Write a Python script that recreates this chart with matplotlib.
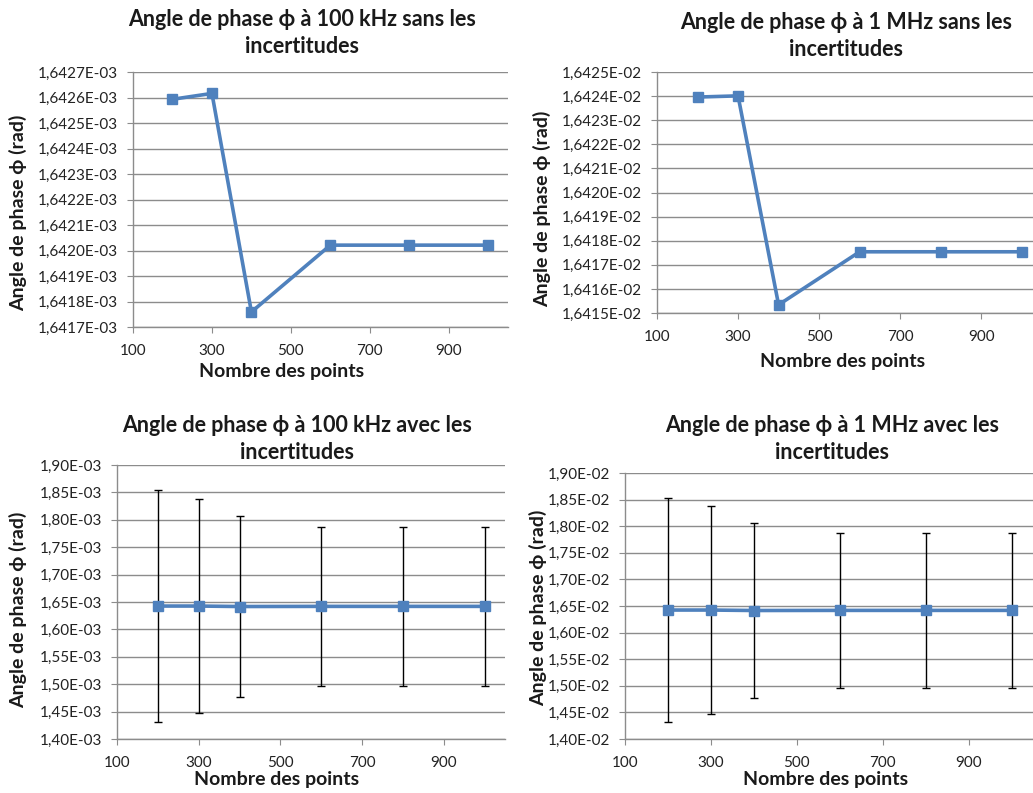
import numpy as np
import matplotlib
matplotlib.use("Agg")
import matplotlib.pyplot as plt
from matplotlib.ticker import FuncFormatter, FixedLocator

plt.rcParams['font.family'] = ['Lato', 'DejaVu Sans']

# Number of points used in the computation
points = [200, 300, 400, 600, 800, 1000]

# Phase angle at 100 kHz (rad)
phase_100k = [1.642593e-3, 1.642616e-3, 1.641759e-3, 1.642021e-3, 1.642021e-3, 1.642021e-3]
# Phase angle at 1 MHz (rad)
phase_1M = [1.642396e-2, 1.642401e-2, 1.641534e-2, 1.641754e-2, 1.641754e-2, 1.641754e-2]
# Uncertainties (rad)
err_100k = [0.212e-3, 0.195e-3, 0.166e-3, 0.145e-3, 0.145e-3, 0.145e-3]
err_1M = [0.211e-2, 0.195e-2, 0.165e-2, 0.145e-2, 0.145e-2, 0.145e-2]

xticks = [100, 300, 500, 700, 900]

titles = [
    "Angle de phase \u03d5 à 100 kHz sans les\nincertitudes",
    "Angle de phase \u03d5 à 1 MHz sans les\nincertitudes",
    "Angle de phase \u03d5 à 100 kHz avec les\nincertitudes",
    "Angle de phase \u03d5 à 1 MHz avec les\nincertitudes",
]
ylabel = "Angle de phase \u03d5 (rad)"
xlabel = "Nombre des points"

W, H = 1033, 793
fig = plt.figure(figsize=(W / 100, H / 100), dpi=100)
fig.patch.set_facecolor("white")

BLUE = "#4F81BD"
GRID = "#8C8C8C"


def px_axes(x0, y0, x1, y1):
    return fig.add_axes([x0 / W, 1 - y1 / H, (x1 - x0) / W, (y1 - y0) / H])


def sci_fmt(decimals, exp):
    scale = 10.0 ** (-exp)

    def f(v, pos):
        s = f"{v * scale:.{decimals}f}".replace(".", ",")
        return f"{s}E-{abs(exp):02d}"
    return FuncFormatter(f)


def style(ax, yticks, fmt):
    ax.set_xlim(100, 1050)
    ax.set_ylim(yticks[0], yticks[-1])
    ax.xaxis.set_major_locator(FixedLocator(xticks))
    ax.yaxis.set_major_locator(FixedLocator(yticks))
    ax.yaxis.set_major_formatter(fmt)
    ax.grid(axis="y", color=GRID, linewidth=1.0)
    ax.set_axisbelow(True)
    for s in ("top", "right"):
        ax.spines[s].set_visible(False)
    for s in ("left", "bottom"):
        ax.spines[s].set_color(GRID)
        ax.spines[s].set_linewidth(1.0)
    ax.tick_params(axis="both", direction="out", length=4, color=GRID,
                   labelsize=11, labelcolor="#222222")
    ax.tick_params(axis="y", pad=7)
    ax.tick_params(axis="x", pad=8)


def fig_text(x, y, s, rot=0, size=14):
    fig.text(x / W, 1 - y / H, s, ha="center", va="center", rotation=rot,
             fontsize=size, fontweight="bold", color="#1a1a1a",
             multialignment="center", linespacing=1.35)


# Top-left: 100 kHz without uncertainties
ax1 = px_axes(133, 72, 508, 327)
ax1.plot(points, phase_100k, color=BLUE, lw=2.6, marker="s", ms=7, zorder=3)
style(ax1, np.linspace(1.6417e-3, 1.6427e-3, 11), sci_fmt(4, -3))

# Top-right: 1 MHz without uncertainties
ax2 = px_axes(657, 72, 1042, 313)
ax2.plot(points, phase_1M, color=BLUE, lw=2.6, marker="s", ms=7, zorder=3)
style(ax2, np.linspace(1.6415e-2, 1.6425e-2, 11), sci_fmt(4, -2))

# Bottom-left: 100 kHz with uncertainties
ax3 = px_axes(117, 465, 505, 739)
ax3.errorbar(points, phase_100k, yerr=err_100k, color=BLUE, lw=2.6, marker="s",
             ms=7, ecolor="black", elinewidth=1.0, capsize=2.7, capthick=1.0, zorder=3)
style(ax3, np.linspace(1.40e-3, 1.90e-3, 11), sci_fmt(2, -3))

# Bottom-right: 1 MHz with uncertainties
ax4 = px_axes(625, 473, 1033, 739)
ax4.errorbar(points, phase_1M, yerr=err_1M, color=BLUE, lw=2.6, marker="s",
             ms=7, ecolor="black", elinewidth=1.0, capsize=2.7, capthick=1.0, zorder=3)
style(ax4, np.linspace(1.40e-2, 1.90e-2, 11), sci_fmt(2, -2))

# Titles
fig_text(302, 33, titles[0], size=15.5)
fig_text(846, 36, titles[1], size=15.5)
fig_text(297, 439, titles[2], size=15.5)
fig_text(832, 439, titles[3], size=15.5)

# Axis labels
fig_text(18, 213, ylabel, rot=90, size=14)
fig_text(542, 209, ylabel, rot=90, size=14)
fig_text(18, 610, ylabel, rot=90, size=14)
fig_text(538, 608, ylabel, rot=90, size=14)
fig_text(282, 372, xlabel, size=14)
fig_text(843, 362, xlabel, size=14)
fig_text(277, 780, xlabel, size=14)
fig_text(826, 780, xlabel, size=14)

fig.savefig("out.png", dpi=100, facecolor="white")
